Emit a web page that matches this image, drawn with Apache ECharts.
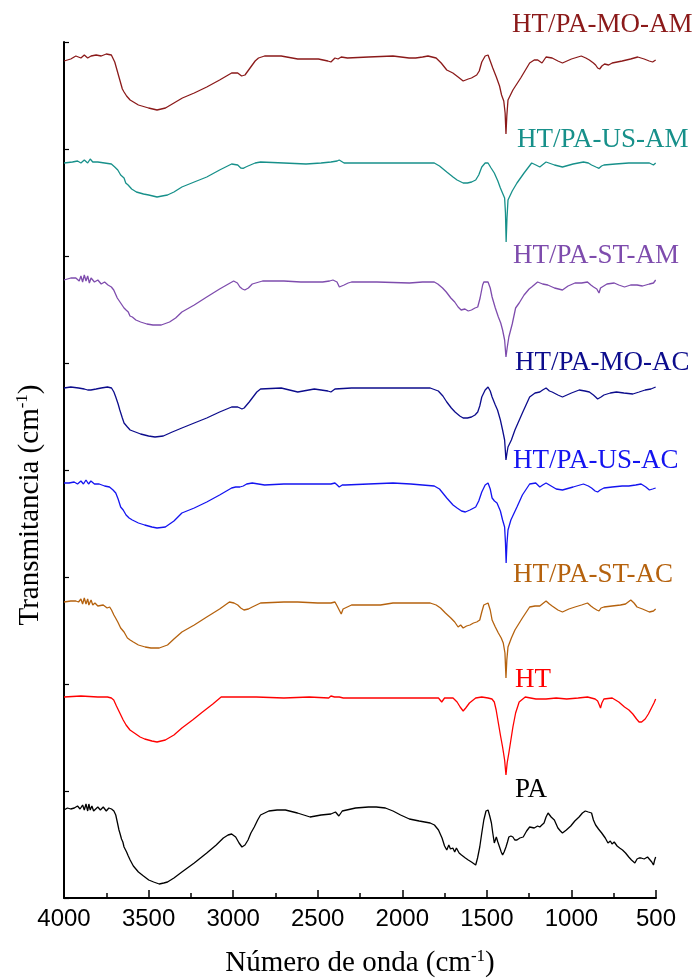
<!DOCTYPE html>
<html>
<head>
<meta charset="utf-8">
<script src="https://cdn.jsdelivr.net/npm/echarts@6/dist/echarts.min.js"></script>
<style>
  html, body { margin: 0; padding: 0; background: #fff; }
  #chart { width: 700px; height: 980px; }
</style>
</head>
<body>
<div id="chart"></div>
<script>
// FTIR spectra, [wavenumber cm-1, transmittance (a.u., stacked)]
const htPaMoAm = [[4000,83.7],[3960,83.9],[3930,84.2],[3900,84.0],[3880,84.3],[3860,84.0],[3840,84.2],[3810,84.3],[3780,84.2],[3750,84.4],[3720,84.3],[3700,83.6],[3690,83.0],[3670,81.8],[3655,80.9],[3645,80.6],[3630,80.2],[3609,79.8],[3560,79.3],[3500,79.0],[3450,78.8],[3400,79.0],[3350,79.5],[3300,80.0],[3230,80.5],[3156,81.1],[3080,81.8],[3009,82.5],[2973,82.5],[2950,82.2],[2930,82.3],[2900,83.0],[2870,83.7],[2850,84.0],[2814,84.2],[2716,84.2],[2618,83.9],[2496,83.9],[2440,83.7],[2422,83.6],[2398,84.0],[2380,83.9],[2361,84.1],[2324,84.0],[2200,84.1],[2055,84.2],[1960,84.0],[1921,84.0],[1880,84.1],[1848,84.2],[1800,84.0],[1770,83.5],[1737,82.8],[1701,82.5],[1670,82.1],[1640,81.7],[1610,81.9],[1591,82.0],[1560,82.3],[1545,82.7],[1530,83.6],[1510,84.2],[1493,84.3],[1480,83.7],[1465,83.0],[1444,82.1],[1425,81.2],[1413,80.3],[1400,79.7],[1392,78.5],[1387,76.4],[1382,78.2],[1375,79.8],[1346,80.8],[1300,82.0],[1247,83.5],[1220,83.8],[1199,83.8],[1174,83.5],[1150,84.1],[1114,84.0],[1080,83.7],[1053,83.5],[1000,83.9],[942,84.2],[915,84.0],[894,83.8],[870,83.5],[857,83.3],[845,83.0],[833,82.9],[820,83.2],[804,83.4],[780,83.3],[759,83.5],[700,83.7],[650,83.9],[608,84.1],[570,83.9],[540,83.7],[520,83.6],[502,83.8]];
const htPaUsAm = [[4000,73.5],[3950,73.6],[3920,73.7],[3900,73.5],[3880,73.8],[3860,73.5],[3845,73.9],[3830,73.6],[3800,73.6],[3760,73.5],[3720,73.4],[3700,73.1],[3682,72.8],[3665,72.3],[3645,72.0],[3635,71.5],[3621,71.3],[3600,70.9],[3572,70.6],[3530,70.4],[3499,70.3],[3450,70.1],[3420,70.2],[3388,70.3],[3350,70.6],[3303,71.1],[3230,71.6],[3156,72.1],[3080,72.8],[3009,73.4],[2973,73.3],[2955,73.0],[2941,72.97],[2925,73.1],[2912,73.2],[2870,73.5],[2838,73.6],[2700,73.5],[2569,73.4],[2480,73.5],[2422,73.6],[2385,73.7],[2373,73.8],[2344,73.5],[2250,73.5],[2129,73.5],[1950,73.5],[1811,73.5],[1780,73.2],[1737,72.6],[1700,72.1],[1676,71.8],[1640,71.5],[1615,71.5],[1590,71.6],[1566,71.8],[1548,72.3],[1530,73.1],[1510,73.5],[1493,73.5],[1475,73.0],[1456,72.5],[1435,71.7],[1420,71.0],[1405,70.4],[1395,70.0],[1390,68.5],[1386,65.6],[1381,68.0],[1375,69.8],[1350,70.7],[1322,71.5],[1280,72.5],[1235,73.5],[1210,73.3],[1187,73.1],[1165,73.4],[1150,73.6],[1100,73.3],[1053,73.1],[990,73.4],[929,73.6],[900,73.5],[881,73.3],[855,73.1],[837,72.97],[822,73.2],[808,73.3],[740,73.4],[661,73.5],[600,73.5],[539,73.5],[515,73.3],[502,73.5]];
const htPaStAm = [[4000,61.8],[3960,62.0],[3930,62.0],[3910,61.7],[3900,62.2],[3890,61.6],[3880,62.3],[3870,61.7],[3860,62.2],[3850,61.5],[3840,62.0],[3820,61.6],[3800,61.8],[3780,61.4],[3760,61.6],[3740,61.3],[3720,61.1],[3706,60.8],[3695,60.6],[3685,60.0],[3675,60.1],[3665,59.5],[3655,59.6],[3645,59.0],[3633,58.8],[3620,58.6],[3610,58.2],[3596,58.1],[3575,57.8],[3547,57.6],[3510,57.4],[3474,57.3],[3425,57.3],[3376,57.6],[3340,58.0],[3303,58.6],[3230,59.3],[3156,60.1],[3080,60.9],[2997,61.7],[2975,61.5],[2960,61.1],[2945,60.9],[2931,60.8],[2910,61.0],[2887,61.4],[2826,61.7],[2700,61.7],[2600,61.6],[2471,61.6],[2430,61.7],[2410,61.8],[2386,61.6],[2372,61.1],[2361,60.9],[2344,61.3],[2320,61.5],[2300,61.6],[2150,61.6],[1958,61.5],[1880,61.6],[1811,61.6],[1790,61.4],[1762,61.0],[1740,60.6],[1713,60.0],[1690,59.6],[1670,59.1],[1652,58.8],[1630,58.9],[1610,58.7],[1591,58.8],[1570,59.0],[1554,59.1],[1540,60.0],[1525,61.3],[1518,61.6],[1493,61.6],[1480,61.0],[1469,60.1],[1450,59.0],[1432,58.1],[1418,57.5],[1407,56.8],[1395,55.8],[1387,54.1],[1380,55.0],[1370,56.1],[1350,57.4],[1330,59.0],[1309,59.5],[1280,60.3],[1250,60.9],[1235,61.1],[1200,61.6],[1170,61.4],[1140,61.3],[1100,61.0],[1053,60.8],[1020,61.2],[979,61.5],[940,61.5],[905,61.6],[885,61.3],[869,61.1],[850,60.9],[837,60.5],[828,61.0],[820,61.2],[790,61.4],[747,61.5],[720,61.3],[686,61.1],[650,61.3],[612,61.3],[580,61.2],[539,61.4],[515,61.5],[502,61.8]];
const htPaMoAc = [[4000,51.0],[3960,51.1],[3914,51.0],[3880,50.9],[3860,50.8],[3841,50.8],[3810,50.9],[3780,51.0],[3743,51.1],[3719,51.0],[3705,50.6],[3694,50.1],[3680,49.4],[3670,48.8],[3655,48.0],[3645,47.5],[3625,47.1],[3609,46.8],[3547,46.4],[3500,46.2],[3462,46.1],[3413,46.2],[3360,46.6],[3303,47.0],[3230,47.5],[3156,48.0],[3080,48.6],[3009,49.1],[2973,49.1],[2960,49.0],[2948,48.9],[2935,49.0],[2924,49.1],[2905,49.6],[2887,50.0],[2860,50.6],[2838,50.9],[2716,51.0],[2618,50.6],[2520,50.9],[2440,50.7],[2422,50.6],[2398,50.9],[2300,51.0],[2100,51.0],[1835,51.0],[1787,50.7],[1760,50.2],[1737,49.6],[1710,49.0],[1688,48.6],[1660,48.2],[1640,48.0],[1615,48.0],[1591,48.1],[1570,48.3],[1554,48.6],[1542,49.2],[1530,50.1],[1510,50.8],[1493,51.1],[1480,50.7],[1469,50.1],[1450,49.3],[1437,48.8],[1420,47.8],[1407,46.8],[1395,45.8],[1387,43.8],[1381,44.5],[1375,45.1],[1355,45.8],[1334,46.8],[1290,48.5],[1247,50.1],[1215,50.5],[1187,50.6],[1170,50.8],[1150,51.0],[1130,50.7],[1114,50.6],[1080,50.3],[1053,50.1],[1000,50.5],[954,50.8],[920,50.7],[894,50.6],[870,50.3],[857,50.1],[845,49.9],[837,49.8],[825,50.1],[808,50.3],[770,50.5],[734,50.6],[690,50.5],[637,50.4],[600,50.6],[564,50.8],[530,50.9],[502,51.1]];
const htPaUsAc = [[4000,41.5],[3970,41.5],[3940,41.6],[3920,41.4],[3900,41.7],[3885,41.4],[3870,41.8],[3855,41.4],[3841,41.7],[3820,41.4],[3792,41.4],[3760,41.2],[3731,41.1],[3710,40.8],[3694,40.5],[3680,39.9],[3665,39.1],[3650,38.8],[3633,38.3],[3615,38.0],[3596,37.8],[3560,37.5],[3523,37.3],[3480,37.1],[3450,37.0],[3401,37.1],[3350,37.7],[3303,38.5],[3230,39.0],[3156,39.6],[3080,40.3],[3009,41.0],[2985,41.1],[2960,41.1],[2940,41.2],[2920,41.4],[2887,41.5],[2814,41.3],[2700,41.4],[2550,41.4],[2422,41.4],[2398,41.5],[2385,41.3],[2373,41.1],[2355,41.3],[2337,41.3],[2200,41.4],[2055,41.5],[1950,41.4],[1811,41.2],[1780,40.9],[1737,40.0],[1700,39.3],[1676,39.0],[1650,38.7],[1627,38.6],[1600,38.8],[1566,39.1],[1548,39.7],[1530,40.6],[1510,41.3],[1493,41.5],[1480,40.9],[1469,40.0],[1455,39.7],[1440,39.5],[1420,38.7],[1407,37.8],[1395,37.1],[1390,35.5],[1386,33.5],[1381,35.5],[1375,36.8],[1358,37.8],[1322,39.1],[1290,40.3],[1247,41.4],[1211,41.5],[1200,41.3],[1187,41.1],[1170,41.3],[1150,41.5],[1120,41.2],[1090,40.9],[1053,40.8],[990,41.1],[929,41.4],[900,41.2],[881,41.0],[860,40.7],[845,40.6],[830,40.8],[808,41.0],[759,41.1],[700,41.2],[661,41.2],[620,41.3],[588,41.4],[560,41.1],[539,40.8],[520,40.9],[502,41.0]];
const htPaStAc = [[4000,29.6],[3960,29.7],[3930,29.7],[3914,29.6],[3900,29.9],[3890,29.4],[3880,30.0],[3870,29.4],[3860,29.9],[3853,29.3],[3840,29.8],[3830,29.3],[3817,29.5],[3800,29.2],[3790,29.4],[3768,29.3],[3745,29.0],[3730,29.1],[3719,28.8],[3705,28.3],[3695,28.0],[3682,27.6],[3672,27.5],[3665,27.0],[3655,26.9],[3645,26.6],[3635,26.4],[3625,26.0],[3609,25.8],[3590,25.6],[3560,25.3],[3520,25.1],[3486,25.0],[3437,25.0],[3388,25.3],[3350,25.9],[3303,26.6],[3230,27.3],[3156,28.1],[3080,28.9],[3022,29.6],[2995,29.5],[2973,29.3],[2955,29.0],[2936,28.8],[2910,28.9],[2887,29.1],[2838,29.5],[2700,29.6],[2618,29.6],[2500,29.5],[2422,29.5],[2398,29.6],[2385,29.2],[2373,28.8],[2361,28.4],[2350,28.9],[2344,29.0],[2300,29.3],[2200,29.3],[2129,29.3],[2055,29.5],[1950,29.5],[1835,29.5],[1800,29.3],[1774,29.0],[1745,28.5],[1713,28.0],[1690,27.6],[1670,27.1],[1655,27.3],[1640,27.0],[1620,27.2],[1600,27.3],[1579,27.5],[1560,27.6],[1542,27.8],[1530,28.6],[1518,29.3],[1493,29.5],[1480,28.8],[1469,27.8],[1450,27.1],[1432,26.5],[1415,26.0],[1403,25.5],[1393,24.5],[1387,22.0],[1382,23.8],[1375,25.1],[1355,26.0],[1334,26.8],[1290,28.0],[1247,29.1],[1215,29.2],[1187,29.2],[1165,29.5],[1150,29.7],[1130,29.4],[1114,29.2],[1080,28.8],[1053,28.6],[1015,28.9],[979,29.1],[940,29.3],[905,29.5],[885,29.2],[869,29.0],[850,28.8],[837,28.7],[825,29.0],[808,29.1],[760,29.2],[710,29.3],[680,29.4],[649,29.8],[630,29.5],[612,29.1],[580,28.9],[539,28.6],[515,28.7],[502,28.9]];
const ht = [[4000,20.1],[3900,20.2],[3800,20.1],[3743,20.1],[3720,20.0],[3706,19.8],[3690,19.2],[3670,18.5],[3650,17.8],[3633,17.3],[3610,16.8],[3584,16.5],[3550,16.1],[3523,15.9],[3480,15.7],[3450,15.6],[3401,15.8],[3350,16.3],[3303,17.0],[3240,17.8],[3181,18.6],[3120,19.4],[3071,20.1],[2950,20.1],[2863,20.1],[2700,20.0],[2550,20.1],[2435,20.0],[2422,20.2],[2400,20.1],[2373,20.1],[2349,20.0],[2200,20.0],[2000,20.0],[1786,20.0],[1767,19.6],[1750,20.0],[1700,20.0],[1676,19.6],[1658,19.1],[1640,18.7],[1625,19.0],[1603,19.5],[1566,20.0],[1530,20.1],[1493,20.0],[1470,19.9],[1456,19.6],[1445,18.8],[1432,17.5],[1420,16.3],[1407,15.1],[1395,13.8],[1387,12.3],[1380,13.5],[1370,14.5],[1358,15.8],[1346,17.1],[1330,18.5],[1309,19.6],[1273,20.1],[1210,19.9],[1150,19.9],[1090,20.0],[1028,19.9],[960,20.0],[905,20.1],[860,19.9],[845,19.7],[835,19.3],[828,19.0],[820,19.5],[808,19.9],[759,20.0],[720,19.6],[686,19.1],[660,18.8],[637,18.4],[615,17.9],[600,17.6],[585,17.6],[564,17.9],[545,18.4],[527,19.0],[512,19.5],[502,19.9]];
const pa = [[4000,8.8],[3980,9.0],[3960,8.9],[3939,9.0],[3920,9.2],[3905,8.9],[3890,9.3],[3880,8.8],[3870,9.4],[3860,8.7],[3853,9.4],[3845,8.8],[3835,9.2],[3825,8.7],[3817,8.9],[3800,9.1],[3785,8.8],[3768,9.1],[3750,8.7],[3735,9.0],[3719,8.9],[3705,8.7],[3694,8.3],[3685,7.6],[3675,6.8],[3668,6.4],[3660,5.9],[3652,5.6],[3645,5.1],[3630,4.6],[3620,4.2],[3609,3.8],[3590,3.2],[3575,2.9],[3560,2.6],[3530,2.2],[3499,1.8],[3470,1.6],[3437,1.4],[3410,1.5],[3388,1.6],[3350,2.0],[3303,2.6],[3230,3.5],[3156,4.5],[3100,5.3],[3058,6.0],[3030,6.3],[3009,6.4],[2985,6.1],[2965,5.5],[2948,5.1],[2930,5.3],[2912,5.8],[2895,6.5],[2875,7.1],[2855,7.8],[2838,8.3],[2789,8.7],[2740,8.8],[2691,8.8],[2620,8.5],[2545,8.1],[2480,8.3],[2422,8.4],[2395,8.6],[2386,8.8],[2375,8.2],[2366,8.0],[2355,8.7],[2344,8.9],[2276,9.0],[2200,9.1],[2154,9.1],[2100,9.0],[2055,8.7],[2010,8.3],[1958,7.9],[1900,7.7],[1835,7.5],[1810,7.3],[1786,6.8],[1765,6.0],[1750,5.2],[1737,4.8],[1725,5.3],[1715,4.9],[1701,5.0],[1690,4.6],[1680,5.0],[1664,4.5],[1650,4.3],[1640,4.5],[1627,4.0],[1610,3.8],[1591,3.6],[1580,3.5],[1566,3.3],[1555,4.0],[1542,5.1],[1530,6.5],[1518,7.8],[1505,8.7],[1493,8.8],[1483,8.2],[1473,7.5],[1465,6.5],[1456,5.5],[1450,5.8],[1444,6.1],[1435,5.6],[1425,5.1],[1415,4.6],[1407,4.3],[1398,4.6],[1387,5.1],[1378,5.6],[1370,6.1],[1358,6.2],[1346,6.1],[1335,5.8],[1322,5.8],[1305,6.0],[1285,6.1],[1265,6.7],[1247,7.1],[1220,7.0],[1200,7.2],[1187,7.1],[1175,7.3],[1162,7.5],[1150,8.1],[1138,8.5],[1120,8.1],[1101,7.8],[1080,7.0],[1065,6.7],[1053,6.5],[1030,6.8],[1004,7.2],[980,7.7],[955,8.1],[935,8.5],[918,8.7],[900,8.6],[881,8.5],[870,7.8],[857,7.3],[840,6.9],[821,6.5],[800,6.0],[784,5.5],[770,5.7],[760,5.4],[747,5.6],[730,5.2],[715,5.0],[698,4.8],[680,4.5],[661,4.1],[645,3.8],[625,3.5],[612,3.9],[600,4.0],[588,4.0],[570,3.9],[550,4.1],[539,4.0],[525,3.6],[515,3.3],[508,3.8],[502,4.1]];

const seriesNames = ['HT/PA-MO-AM', 'HT/PA-US-AM', 'HT/PA-ST-AM', 'HT/PA-MO-AC', 'HT/PA-US-AC', 'HT/PA-ST-AC', 'HT', 'PA'];
const seriesData = [htPaMoAm, htPaUsAm, htPaStAm, htPaMoAc, htPaUsAc, htPaStAc, ht, pa];
const seriesColors = ['#8b1a1a', '#17908a', '#7e4cad', '#0c0c8c', '#1414f0', '#b5620e', '#ff0000', '#000000'];
// label anchor [left px, middle px]
const labelPos = [[512, 25], [517, 140], [513, 256], [515, 363], [513, 461], [513, 575], [515, 680], [515, 790]];

const chart = echarts.init(document.getElementById('chart'));

const serif = '"Liberation Serif", "Times New Roman", serif';

const labelGraphics = seriesNames.map((name, i) => ({
  type: 'text',
  x: labelPos[i][0],
  y: labelPos[i][1],
  style: {
    text: name,
    font: '27px ' + serif,
    fill: seriesColors[i],
    verticalAlign: 'middle'
  }
}));

chart.setOption({
  animation: false,
  backgroundColor: '#fff',
  grid: { left: 64, right: 44, top: 42, bottom: 82, containLabel: false, outerBoundsMode: 'none' },
  xAxis: {
    type: 'value',
    inverse: true,
    min: 500,
    max: 4000,
    interval: 500,
    name: 'Número de onda (cm{sup|-1})',
    nameLocation: 'middle',
    nameGap: 50,
    nameTextStyle: {
      fontFamily: serif,
      fontSize: 29,
      color: '#000',
      rich: { sup: { fontFamily: serif, fontSize: 17, color: '#000', verticalAlign: 'top', padding: [0, 0, 14, 0] } }
    },
    axisLine: { lineStyle: { color: '#000', width: 2 } },
    axisTick: { inside: true, length: 8, lineStyle: { color: '#000', width: 1.5 } },
    minorTick: { show: true, splitNumber: 2, length: 5, lineStyle: { color: '#000', width: 1.5 } },
    axisLabel: {
      color: '#000',
      fontFamily: '"Liberation Sans", Arial, sans-serif',
      fontSize: 24,
      margin: 9,
      formatter: v => String(v)
    },
    splitLine: { show: false }
  },
  yAxis: {
    type: 'value',
    min: 0,
    max: 85.6,
    interval: 10.7,
    axisLine: { show: true, lineStyle: { color: '#000', width: 2 } },
    axisTick: { show: true, inside: true, length: 5, lineStyle: { color: '#000', width: 1.2 } },
    axisLabel: { show: false },
    splitLine: { show: false }
  },
  graphic: [
    {
      type: 'text',
      x: 30,
      y: 505,
      rotation: Math.PI / 2,
      style: {
        text: 'Transmitancia (cm{sup|-1})',
        font: '29px ' + serif,
        fill: '#000',
        align: 'center',
        verticalAlign: 'middle',
        rich: { sup: { fontFamily: serif, fontSize: 17, fill: '#000', verticalAlign: 'top', padding: [0, 0, 14, 0] } }
      }
    }
  ].concat(labelGraphics),
  series: seriesNames.map((name, i) => ({
    name: name,
    type: 'line',
    data: seriesData[i],
    showSymbol: false,
    symbol: 'none',
    lineStyle: { color: seriesColors[i], width: 1.3 },
    emphasis: { disabled: true }
  }))
});
</script>
</body>
</html>
